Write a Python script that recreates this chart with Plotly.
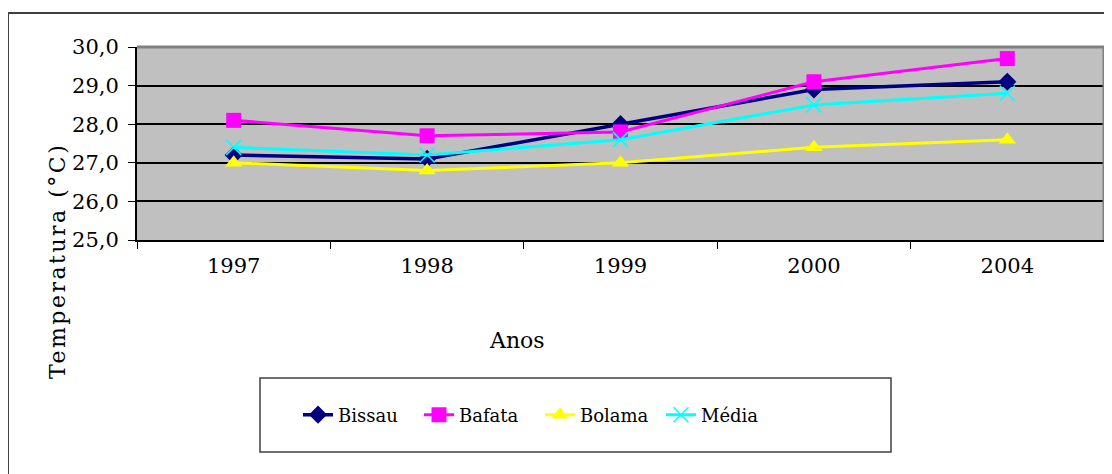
import plotly.graph_objects as go

anos = ["1997", "1998", "1999", "2000", "2004"]
bissau = [27.2, 27.1, 28.0, 28.9, 29.1]
bafata = [28.1, 27.7, 27.8, 29.1, 29.7]
bolama = [27.0, 26.8, 27.0, 27.4, 27.6]
media = [27.4, 27.2, 27.6, 28.5, 28.8]

OFF = 8  # page body margin
W, H = 1112 - OFF, 474 - OFF
L, R, T, B = 137 - OFF, 1104 - OFF, 47 - OFF, 240 - OFF

def px(x):
    return (x - OFF - L) / (R - L)

def py(y):
    return (B - (y - OFF)) / (B - T)

FONT = "DejaVu Serif"

fig = go.Figure()
fig.add_trace(go.Scatter(x=anos, y=bissau, name="Bissau", mode="lines+markers",
                         line=dict(color="#000080", width=3.5),
                         marker=dict(symbol="diamond", size=14, color="#000080")))
fig.add_trace(go.Scatter(x=anos, y=bafata, name="Bafata", mode="lines+markers",
                         line=dict(color="#FF00FF", width=3),
                         marker=dict(symbol="square", size=15, color="#FF00FF")))
fig.add_trace(go.Scatter(x=anos, y=bolama, name="Bolama", mode="lines+markers",
                         line=dict(color="#FFFF00", width=3),
                         marker=dict(symbol="triangle-up", size=15, color="#FFFF00")))
fig.add_trace(go.Scatter(x=anos, y=media, name="Média", mode="lines+markers",
                         line=dict(color="#00FFFF", width=3),
                         marker=dict(symbol="x-thin", size=15, color="#00FFFF",
                                     line=dict(color="#00FFFF", width=1.5))))

fig.update_layout(
    width=W, height=H,
    margin=dict(l=L, r=W - R, t=T, b=H - B, pad=0),
    paper_bgcolor="white",
    plot_bgcolor="#C0C0C0",
    separators=",.",
    font=dict(family=FONT, color="black"),
    showlegend=True,
    legend=dict(orientation="h", x=px(540), y=py(415), xanchor="center", yanchor="middle",
                font=dict(family=FONT, size=18, color="black"),
                bgcolor="rgba(0,0,0,0)", borderwidth=0,
                entrywidth=76, entrywidthmode="pixels"),
)
fig.update_xaxes(
    type="category", range=[-0.5, 4.5],
    showline=True, linecolor="black", linewidth=2,
    ticks="outside", tickson="boundaries", ticklen=7, tickcolor="black", tickwidth=1,
    tickfont=dict(family=FONT, size=21, color="black"), ticklabelstandoff=6,
    showgrid=False, fixedrange=True,
)
fig.update_yaxes(
    range=[25, 30], dtick=1, tickformat=".1f",
    showline=True, linecolor="black", linewidth=2,
    ticks="outside", ticklen=7, tickcolor="black", tickwidth=1,
    tickfont=dict(family=FONT, size=21, color="black"), ticklabelstandoff=5,
    showgrid=True, gridcolor="black", gridwidth=1.5,
    zeroline=False, fixedrange=True,
)

# plot-area gray border (top and right)
fig.add_shape(type="line", xref="x domain", yref="y domain", x0=0, x1=1, y0=1, y1=1,
              line=dict(color="#808080", width=3), layer="above")
fig.add_shape(type="line", xref="x domain", yref="y domain", x0=1, x1=1, y0=0, y1=1,
              line=dict(color="#808080", width=3), layer="above")
# outer frame
fig.add_shape(type="rect", xref="paper", yref="paper",
              x0=px(8), x1=px(1120), y0=py(13), y1=py(490),
              line=dict(color="#404040", width=2), layer="below")
# legend box
fig.add_shape(type="rect", xref="paper", yref="paper",
              x0=px(260), x1=px(891), y0=py(378), y1=py(452),
              line=dict(color="#404040", width=1.5), layer="below")

fig.add_annotation(text="Anos", xref="paper", yref="paper", x=px(517), y=py(340),
                   showarrow=False, font=dict(family=FONT, size=22, color="black"),
                   xanchor="center", yanchor="middle")
fig.add_annotation(text='<span style="letter-spacing:2.5px">Temperatura (°C)</span>',
                   xref="paper", yref="paper", x=px(57), y=py(261),
                   textangle=-90, showarrow=False,
                   font=dict(family=FONT, size=22, color="black"),
                   xanchor="center", yanchor="middle")

fig.write_html("out.html")
